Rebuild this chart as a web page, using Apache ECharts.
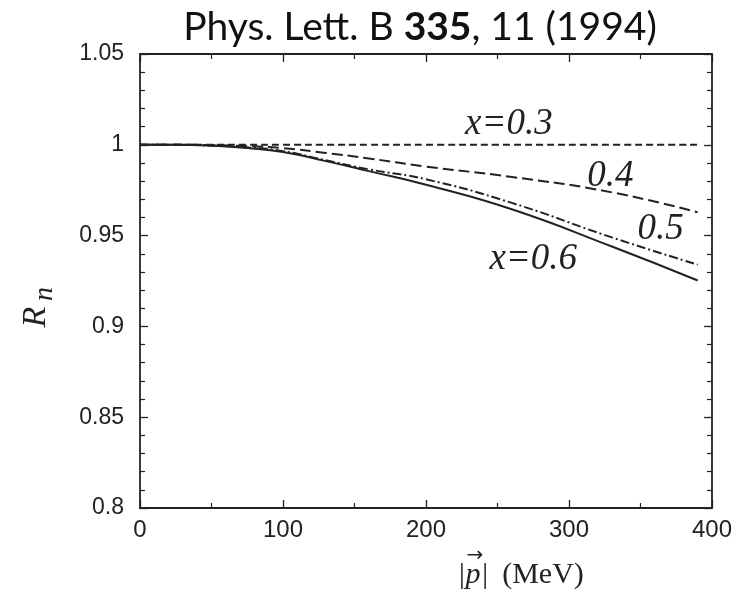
<!DOCTYPE html>
<html>
<head>
<meta charset="utf-8">
<script src="https://cdn.jsdelivr.net/npm/echarts@6/dist/echarts.min.js"></script>
<style>html,body{margin:0;padding:0;background:#fff}#c{width:750px;height:600px}</style>
</head>
<body>
<div id="c"></div>
<script>
// ---- data ----
var pValues = [0, 25, 50, 75, 100, 130, 160, 200, 260, 330, 390];
var r03 = [1, 1, 1, 1, 1, 1, 1, 1, 1, 1, 1];
var r04 = [1, 1, 0.9998, 0.9993, 0.9982, 0.9955, 0.9925, 0.988, 0.9823, 0.9738, 0.9628];
var r05 = [1, 1, 0.9996, 0.9985, 0.9965, 0.9915, 0.9865, 0.981, 0.968, 0.949, 0.934];
var r06 = [1, 1, 0.9995, 0.9982, 0.996, 0.991, 0.9855, 0.978, 0.9645, 0.944, 0.9253];
var xTicks = [0, 100, 200, 300, 400];
var yTicks = [0.8, 0.85, 0.9, 0.95, 1, 1.05];
var curveLabels = [
  {text: 'x=0.3', p: 258, r: 1.0113},
  {text: '0.4', p: 329, r: 0.9826},
  {text: '0.5', p: 364, r: 0.9534},
  {text: 'x=0.6', p: 275, r: 0.9369}
];

function pairs(ys) { return pValues.map(function (p, i) { return [p, ys[i]]; }); }

var ink = '#222';
var axisCommon = {
  min: 0, max: 400, interval: 100,
  axisLine: {show: true, onZero: false, lineStyle: {color: ink, width: 1.8}},
  axisTick: {show: true, inside: true, length: 8, lineStyle: {color: ink, width: 1.3}},
  minorTick: {show: true, splitNumber: 2, length: 5, lineStyle: {color: ink, width: 1.2}},
  splitLine: {show: false}
};
var yCommon = {
  min: 0.8, max: 1.05, interval: 0.05,
  axisLine: {show: true, onZero: false, lineStyle: {color: ink, width: 1.8}},
  axisTick: {show: true, inside: true, length: 8, lineStyle: {color: ink, width: 1.3}},
  minorTick: {show: true, splitNumber: 5, length: 5, lineStyle: {color: ink, width: 1.2}},
  splitLine: {show: false}
};

var chart = echarts.init(document.getElementById('c'), null, {renderer: 'canvas'});
var option = {
  animation: false,
  backgroundColor: '#fff',
  grid: {left: 140, right: 38, top: 54, bottom: 92},
  xAxis: [
    Object.assign({}, axisCommon, {
      type: 'value', position: 'bottom',
      axisLabel: {show: true, color: ink, fontFamily: 'Liberation Sans', fontSize: 24, margin: 10,
        formatter: function (v) { return xTicks.indexOf(v) >= 0 ? String(v) : ''; }}
    }),
    Object.assign({}, axisCommon, {type: 'value', position: 'top', axisLabel: {show: false}})
  ],
  yAxis: [
    Object.assign({}, yCommon, {
      type: 'value', position: 'left',
      axisLabel: {show: true, color: ink, fontFamily: 'Liberation Sans', fontSize: 23, margin: 16,
        formatter: function (v) {
          for (var i = 0; i < yTicks.length; i++) if (Math.abs(yTicks[i] - v) < 1e-6) return String(yTicks[i]);
          return '';
        }}
    }),
    Object.assign({}, yCommon, {type: 'value', position: 'right', axisLabel: {show: false}})
  ],
  series: [
    {type: 'line', name: 'x=0.3', data: pairs(r03), smooth: true, symbol: 'none',
      lineStyle: {color: ink, width: 2, type: [7, 4]}},
    {type: 'line', name: 'x=0.4', data: pairs(r04), smooth: true, symbol: 'none',
      lineStyle: {color: ink, width: 2, type: [11, 5]}},
    {type: 'line', name: 'x=0.5', data: pairs(r05), smooth: true, symbol: 'none',
      lineStyle: {color: ink, width: 2, type: [9, 3, 2, 3]}},
    {type: 'line', name: 'x=0.6', data: pairs(r06), smooth: true, symbol: 'none',
      lineStyle: {color: ink, width: 2, type: 'solid'}}
  ]
};
chart.setOption(option);

// annotation texts placed in data coordinates
var g = [];
curveLabels.forEach(function (c) {
  var px = chart.convertToPixel({gridIndex: 0}, [c.p, c.r]);
  g.push({type: 'text', x: px[0], y: px[1],
    style: {text: c.text, fill: ink, font: 'italic 37px "Liberation Serif"', textAlign: 'center', textVerticalAlign: 'middle'}});
});
// title
g.push({type: 'text', x: 420, y: 27,
  style: {
    text: '{n|Phys. Lett. B }{b|335}{n|, 11 (1994)}',
    textAlign: 'center', textVerticalAlign: 'middle',
    rich: {
      n: {fontFamily: 'Lato', fontSize: 39, fill: '#111'},
      b: {fontFamily: 'Lato', fontSize: 39, fontWeight: 'bold', fill: '#111'}
    }
  }});
// y axis name R_n (rotated)
g.push({type: 'group', x: 36, y: 307, rotation: Math.PI / 2, children: [
  {type: 'text', x: -10, y: 0, style: {text: 'R', fill: ink, font: 'italic 34px "Liberation Serif"', textAlign: 'center', textVerticalAlign: 'middle'}},
  {type: 'text', x: 13, y: 9, style: {text: 'n', fill: ink, font: 'italic 28px "Liberation Serif"', textAlign: 'center', textVerticalAlign: 'middle'}}
]});
// x axis name |p| (MeV)
g.push({type: 'text', x: 473, y: 575, style: {text: '|p|', fill: ink, font: 'italic 30px "Liberation Serif"', textAlign: 'center', textVerticalAlign: 'middle'}});
g.push({type: 'text', x: 475, y: 556, style: {text: '\u2192', fill: ink, font: '20px "DejaVu Sans"', textAlign: 'center', textVerticalAlign: 'middle'}});
g.push({type: 'text', x: 543, y: 575, style: {text: '(MeV)', fill: ink, font: '30px "Liberation Serif"', textAlign: 'center', textVerticalAlign: 'middle'}});
chart.setOption({graphic: g});
</script>
</body>
</html>
